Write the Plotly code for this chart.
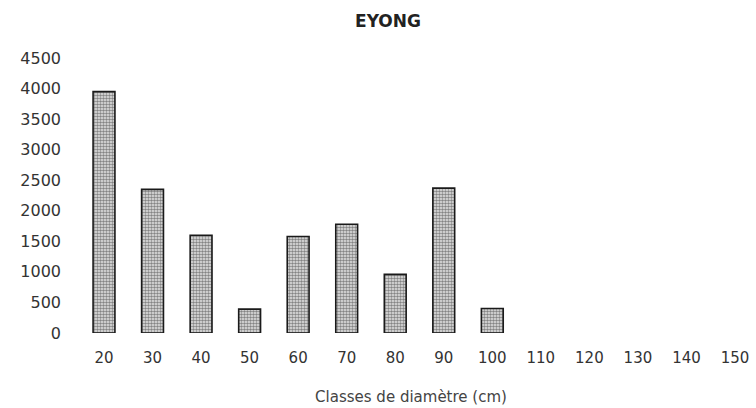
import plotly.graph_objects as go

classes = [20, 30, 40, 50, 60, 70, 80, 90, 100, 110, 120, 130, 140, 150]
counts = [3950, 2350, 1600, 390, 1580, 1780, 960, 2370, 400, 0, 0, 0, 0, 0]
y_ticks = [0, 500, 1000, 1500, 2000, 2500, 3000, 3500, 4000, 4500]

# hide outlines of empty classes
line_widths = [1.6 if v > 0 else 0 for v in counts]

fig = go.Figure()
fig.add_trace(go.Bar(
    x=classes, y=counts, width=4.5,
    marker=dict(
        color="#e0e0e0",
        line=dict(color="#1a1a1a", width=line_widths),
        pattern=dict(shape=".", fgcolor="#202020", bgcolor="#e8e8e8",
                     size=3, solidity=0.55, fillmode="overlay"),
    ),
    showlegend=False,
))

font_family = "DejaVu Sans, sans-serif"
fig.update_layout(
    width=756, height=408,
    margin=dict(l=66, r=0, t=58, b=75),
    paper_bgcolor="white", plot_bgcolor="white",
    font=dict(family=font_family, size=15, color="#333"),
    title=dict(text="<b>EYONG</b>", x=388/756, xref="container", xanchor="center",
               y=1-21/408, yref="container", yanchor="middle",
               font=dict(size=17, color="#222")),
    xaxis=dict(range=[12.17, 154.33], tickmode="array", tickvals=classes,
               ticktext=[str(c) for c in classes], showgrid=False, zeroline=False,
               showline=False, ticks="", automargin=False, ticklabelstandoff=14,
               tickfont=dict(size=15, color="#333"),
               title=dict(text="Classes de diamètre (cm)", standoff=25,
                          font=dict(size=15, color="#444"))),
    yaxis=dict(range=[0, 4500], tickmode="array", tickvals=y_ticks,
               showgrid=False, zeroline=False, showline=False, ticks="",
               automargin=False, ticklabelstandoff=4,
               tickfont=dict(size=16, color="#333")),
)
fig.write_html("out.html", config={"displayModeBar": False},
               post_script="document.body.style.margin='0';")
